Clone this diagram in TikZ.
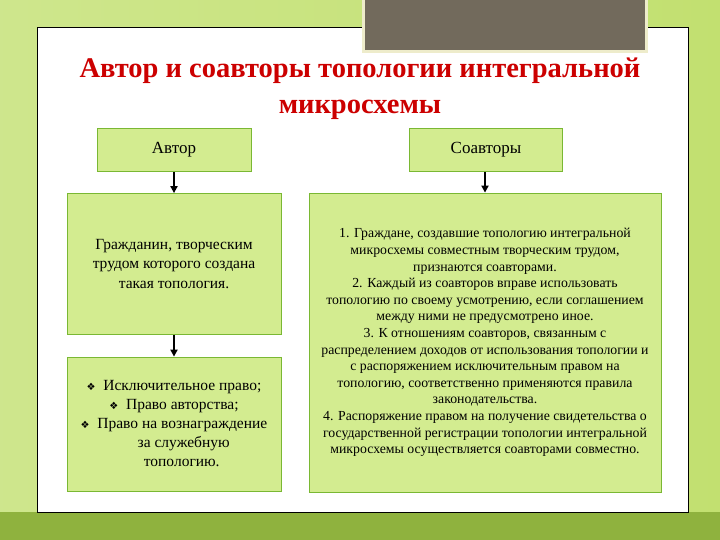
\documentclass[tikz,border=0pt]{standalone}
\usepackage{fontspec}
\setmainfont{Liberation Serif}
\newfontfamily\dejavu{DejaVu Sans}
\usetikzlibrary{arrows.meta}
\begin{document}
\begin{tikzpicture}[x=1pt,y=-1pt,
  gbox/.style={draw=green!30!olive!80,fill=boxfill,line width=0.8pt,inner sep=3pt,align=center,text=black},
  arr/.style={-{Triangle[length=7pt,width=7pt]},line width=2.2pt}]
\definecolor{bgg}{HTML}{C2E070}
\definecolor{bgdark}{HTML}{8FB23E}
\definecolor{boxfill}{HTML}{D3EC90}
\definecolor{greyb}{HTML}{726A5C}
\definecolor{titred}{HTML}{CC0000}
\useasboundingbox (0,0) rectangle (720,540);
\fill[left color=bgg!80!white,right color=bgg] (0,0) rectangle (720,540);
\fill[bgdark] (0,512) rectangle (720,540);
\draw[fill=white,line width=1pt] (37,28) rectangle (688,512);
\draw[draw=white!85!olive,fill=greyb,line width=3pt] (363,-3) rectangle (646,52);
\node[text=titred,font=\bfseries\fontsize{28.5}{36}\selectfont,align=center] (title) at (360,89) {Автор и соавторы топологии интегральной\\микросхемы};
\node[gbox,minimum width=154,minimum height=43,font=\fontsize{17}{18}\selectfont] (a) at (174,150) {Автор};
\node[gbox,minimum width=153,minimum height=43,font=\fontsize{17}{18}\selectfont] (s) at (486,150) {Соавторы};
\node[gbox,minimum width=214,minimum height=141,font=\fontsize{15.5}{19.5}\selectfont] (b1) at (174,264) {Гражданин, творческим\\трудом которого создана\\такая топология.};
\node[gbox,minimum width=214,minimum height=134,font=\fontsize{15.5}{19}\selectfont] (b2) at (174,424) {{\dejavu\normalsize ❖}\ \ Исключительное право;\\{\dejavu\normalsize ❖}\ \ Право авторства;\\{\dejavu\normalsize ❖}\ \ Право на вознаграждение\\\ \ \ \ \ за служебную\\\ \ \ \ топологию.};
\node[gbox,minimum width=352,minimum height=299,font=\fontsize{13.8}{16.6}\selectfont] (r) at (485,342.5) {1. Граждане, создавшие топологию интегральной\\микросхемы совместным творческим трудом,\\признаются соавторами.\\2. Каждый из соавторов вправе использовать\\топологию по своему усмотрению, если соглашением\\между ними не предусмотрено иное.\\3. К отношениям соавторов, связанным с\\распределением доходов от использования топологии и\\с распоряжением исключительным правом на\\топологию, соответственно применяются правила\\законодательства.\\4. Распоряжение правом на получение свидетельства о\\государственной регистрации топологии интегральной\\микросхемы осуществляется соавторами совместно.};
\draw[arr] (a.south) -- (b1.north);
\draw[arr] (s.south -| r.north) -- (r.north);
\draw[arr] (b1.south) -- (b2.north);
\end{tikzpicture}
\end{document}
